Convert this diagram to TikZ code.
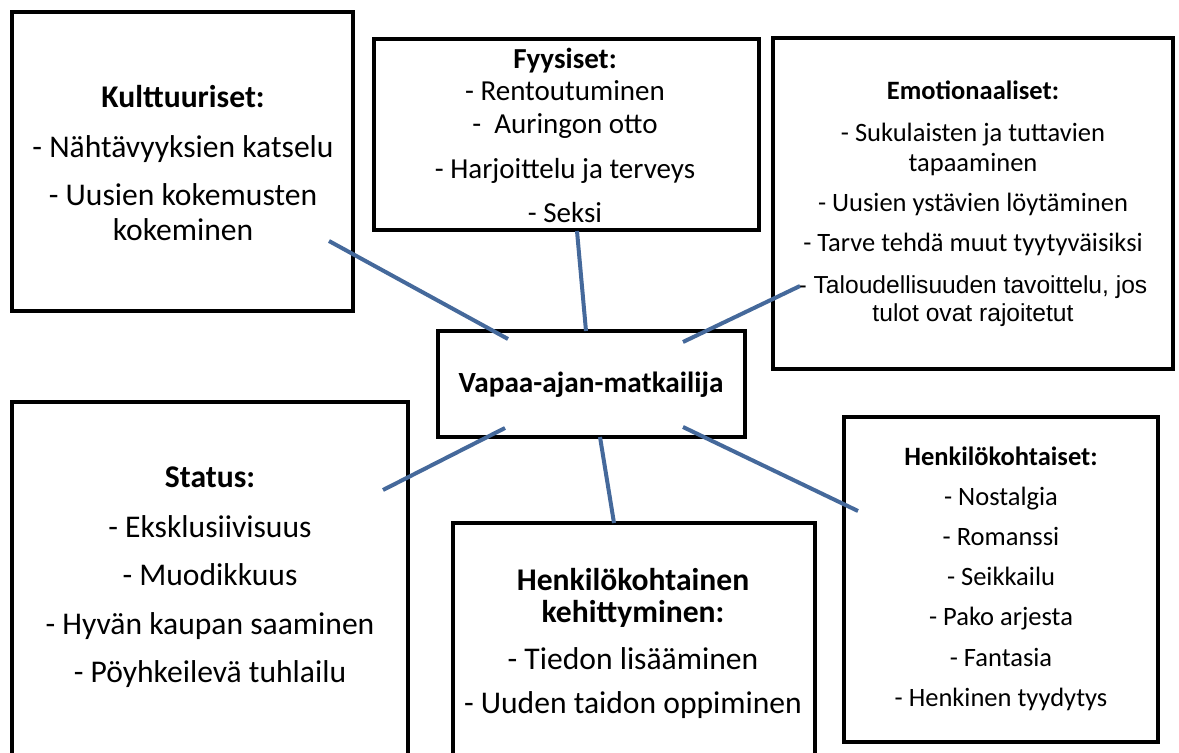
\documentclass[tikz,border=0pt]{standalone}
\usepackage{fontspec}
\setmainfont{Carlito}
\newfontfamily\arialfont{Liberation Sans}
\usetikzlibrary{fit}
\definecolor{connblue}{HTML}{45699B}
\tikzset{
  box/.style={draw=black, line width=2.4pt, fill=white, inner sep=0pt},
  txt/.style={align=center, inner sep=0pt, text=black},
  conn/.style={draw=connblue, line width=2pt},
  fbig/.style={font=\fontsize{15.8}{17.5}\selectfont},
  fmid/.style={font=\fontsize{14.5}{16}\selectfont},
  fsmall/.style={font=\fontsize{13.25}{15}\selectfont},
}
\begin{document}
\begin{tikzpicture}[x=0.5pt,y=-0.5pt]
\useasboundingbox (0,0) rectangle (1179,753);
\clip (0,0) rectangle (1179,753);

% boxes
\node[box, fit={(12,12)(353,311)}] (kult) {};
\node[box, fit={(374,39)(759,230)}] (fyys) {};
\node[box, fit={(773,38)(1173,369)}] (emot) {};
\node[box, fit={(438,331)(745,437)}] (vapaa) {};
\node[box, fit={(12,402)(408,770)}] (status) {};
\node[box, fit={(453,523)(815,770)}] (kehit) {};
\node[box, fit={(844,417)(1158,742)}] (henk) {};

% texts
\node[txt, fbig] (kultT) at (183,163.5) {\textbf{Kulttuuriset:}\\[7.5pt]- Nähtävyyksien katselu\\[6.5pt]- Uusien kokemusten\\kokeminen};
\node[txt, fmid] (fyysT) at (565,135) {\textbf{Fyysiset:}\\- Rentoutuminen\\[0.5pt]- \ Auringon otto\\[6.5pt]- Harjoittelu ja terveys\\[6pt]- Seksi};
\node[txt, fsmall] (emotT) at (973,204) {\textbf{Emotionaaliset:}\\[6pt]- Sukulaisten ja tuttavien\\tapaaminen\\[5pt]- Uusien ystävien löytäminen\\[5pt]- Tarve tehdä muut tyytyväisiksi\\[6pt]{\arialfont\fontsize{12.3}{14}\selectfont - Taloudellisuuden tavoittelu, jos}\\[-1pt]{\arialfont\fontsize{12.3}{14}\selectfont tulot ovat rajoitetut}};
\node[txt, font=\fontsize{14.65}{16}\selectfont\bfseries] (vapaaT) at (591,385) {Vapaa-ajan-matkailija};
\node[txt, fbig] (statusT) at (210,577.5) {\textbf{Status:}\\[7.5pt]- Eksklusiivisuus\\[6.5pt]- Muodikkuus\\[7pt]- Hyvän kaupan saaminen\\[6.5pt]- Pöyhkeilevä tuhlailu};
\node[txt, fbig] (kehitT) at (633,643) {\textbf{Henkilökohtainen}\\[-1.5pt]\textbf{kehittyminen:}\\[6pt]- Tiedon lisääminen\\[4.5pt]- Uuden taidon oppiminen};
\node[txt, fsmall] (henkT) at (1001,579) {\textbf{Henkilökohtaiset:}\\[5pt]- Nostalgia\\[5pt]- Romanssi\\[5pt]- Seikkailu\\[5pt]- Pako arjesta\\[5.5pt]- Fantasia\\[5pt]- Henkinen tyydytys};

% connector ends
\coordinate (c1a) at (329,241);  \coordinate (c1b) at (508,339);
\coordinate (c2a) at (577,231);  \coordinate (c2b) at (586,331);
\coordinate (c3a) at (800,286);  \coordinate (c3b) at (683,342);
\coordinate (c4a) at (505,428);  \coordinate (c4b) at (383,490);
\coordinate (c5a) at (600,437);  \coordinate (c5b) at (614,523);
\coordinate (c6a) at (683,427);  \coordinate (c6b) at (858,511);

\draw[conn] (c1a) -- (c1b);
\draw[conn] (c2a) -- (c2b);
\draw[conn] (c3a) -- (c3b);
\draw[conn] (c4a) -- (c4b);
\draw[conn] (c5a) -- (c5b);
\draw[conn] (c6a) -- (c6b);
\end{tikzpicture}
\end{document}
